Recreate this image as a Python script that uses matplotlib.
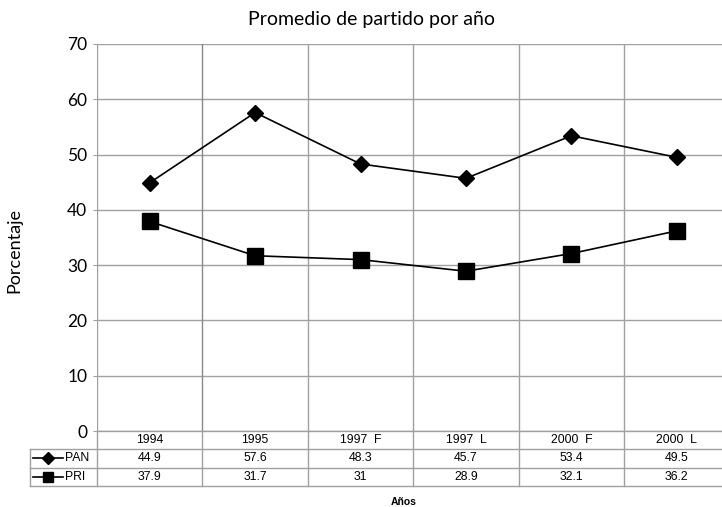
import matplotlib
matplotlib.use("Agg")
import matplotlib.pyplot as plt
from matplotlib.lines import Line2D

# data --------------------------------------------------------------
years = ["1994", "1995", "1997  F", "1997  L", "2000  F", "2000  L"]
pan = [44.9, 57.6, 48.3, 45.7, 53.4, 49.5]
pri = [37.9, 31.7, 31, 28.9, 32.1, 36.2]
pan_txt = ["44.9", "57.6", "48.3", "45.7", "53.4", "49.5"]
pri_txt = ["37.9", "31.7", "31", "28.9", "32.1", "36.2"]
yticks = [0, 10, 20, 30, 40, 50, 60, 70]

W, H = 722, 507
fig = plt.figure(figsize=(W / 100, H / 100), dpi=100)
# plot area: x 97..729.5 px, y 44..431 px
ax = fig.add_axes([97 / W, 1 - 431 / H, (729.5 - 97) / W, (431 - 44) / H])

n = len(years)
xs = [i + 0.5 for i in range(n)]
ax.plot(xs, pan, color="black", lw=1.2, marker="D", ms=8.5, zorder=3, clip_on=False)
ax.plot(xs, pri, color="black", lw=1.2, marker="s", ms=11.5, zorder=3, clip_on=False)

ax.set_xlim(0, n)
ax.set_ylim(0, 70)
ax.set_yticks(yticks)
ax.set_xticks([])
grid_c = "#a0a0a0"
for y in yticks:
    ax.axhline(y, color=grid_c, lw=1.0, zorder=1)
for i in range(1, n):
    ax.axvline(i, color="#888888" if i == 1 else grid_c, lw=1.0, zorder=1)
for s in ax.spines.values():
    s.set_visible(False)
ax.axvline(0, color=grid_c, lw=1.0, zorder=1)
ax.tick_params(axis="y", length=3, color=grid_c, pad=4, labelsize=12.5)
for lab in ax.get_yticklabels():
    lab.set_fontfamily("Lato")

fig.text(14 / W, 1 - 250 / H, "Porcentaje", rotation=90, ha="center",
         va="center", fontfamily="Lato", fontsize=13)
fig.text(371 / W, 1 - 19 / H, "Promedio de partido por año", ha="center",
         va="center", fontfamily="Lato", fontsize=14)

# data table under the plot -----------------------------------------
px = 10 / 55.3          # data units per pixel (y)
cw = 105.5              # pixels per category column
row_h = 18.3 * px
tab_left = (30 - 97) / cw
tab_right = n + 1
r0, r1, r2, r3 = 0, -row_h, -2 * row_h, -3 * row_h
kw = dict(color=grid_c, lw=1.0, clip_on=False, zorder=1)
ax.add_line(Line2D([0, tab_right], [r0, r0], **kw))
for yy in (r1, r2, r3):
    ax.add_line(Line2D([tab_left, tab_right], [yy, yy], **kw))
ax.add_line(Line2D([tab_left, tab_left], [r1, r3], **kw))
ax.add_line(Line2D([0, 0], [r0, r3], **kw))
for i in range(1, n):
    ax.add_line(Line2D([i, i], [r0, r3], **kw))

tfont = dict(fontfamily="Liberation Sans", fontsize=8.8, ha="center", va="center")
for i in range(n):
    ax.text(xs[i], (r0 + r1) / 2, years[i], **tfont)
    ax.text(xs[i], (r1 + r2) / 2, pan_txt[i], **tfont)
    ax.text(xs[i], (r2 + r3) / 2, pri_txt[i], **tfont)

# legend keys inside table
for yy, mk, ms, name in (((r1 + r2) / 2, "D", 6, "PAN"), ((r2 + r3) / 2, "s", 7, "PRI")):
    x0, x1 = (33 - 97) / cw, (63 - 97) / cw
    ax.add_line(Line2D([x0, x1], [yy, yy], color="black", lw=1.2, clip_on=False))
    ax.plot([(x0 + x1) / 2], [yy], marker=mk, ms=ms, color="black", clip_on=False)
    ax.text((65 - 97) / cw, yy, name, fontfamily="Liberation Sans", fontsize=8.8,
            ha="left", va="center")

fig.text(404 / W, 1 - 502 / H, "Años", ha="center", va="center",
         fontfamily="Liberation Sans", fontweight="bold", fontsize=7.5)

fig.savefig("out.png", dpi=100, facecolor="white")
